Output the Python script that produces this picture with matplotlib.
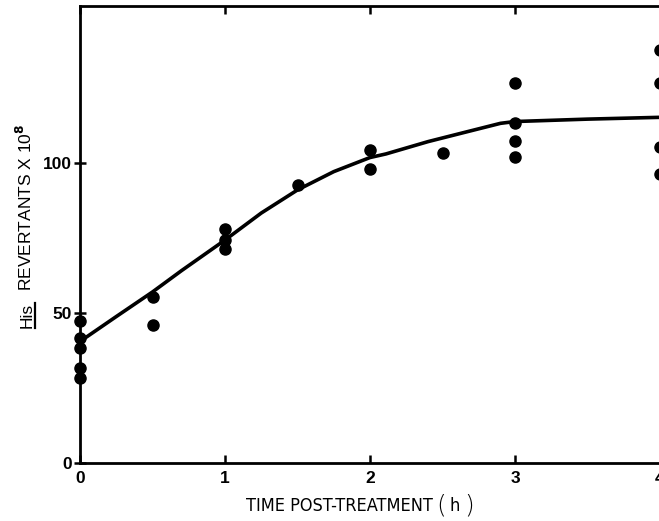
import matplotlib
matplotlib.use("Agg")
import matplotlib.pyplot as plt
from matplotlib.lines import Line2D

# revertants (x10^8)
time_h = [0, 0, 0, 0, 0,
          0.5, 0.5,
          1, 1, 1,
          1.5,
          2, 2,
          2.5,
          3, 3, 3, 3,
          4, 4, 4, 4]
revertants = [47.3, 41.7, 38.3, 31.5, 28.3,
              55.4, 46.0,
              77.9, 74.3, 71.2,
              92.7,
              104.3, 98.1,
              103.2,
              126.6, 113.4, 107.3, 101.9,
              137.7, 126.6, 105.2, 96.2]

# hand-drawn fit curve
curve_x = [0, 0.25, 0.5, 0.7, 1.0, 1.25, 1.5, 1.75, 2.0, 2.11, 2.4, 2.67, 2.9, 3.0, 3.5, 4.0]
curve_y = [40.5, 48.8, 57.0, 64.1, 74.3, 83.3, 91.0, 97.1, 101.8, 103.0, 107.1, 110.4, 113.2, 113.8, 114.6, 115.2]

xticks = [0, 1, 2, 3, 4]
yticks = [0, 50, 100]

W, H = 659, 521
fig = plt.figure(figsize=(W / 100, H / 100), dpi=100)
ax = fig.add_axes([80 / W, (H - 463) / H, 580 / W, 457 / H])

ax.plot(curve_x, curve_y, color="black", lw=2.6, solid_capstyle="round", zorder=2)
ax.plot(time_h, revertants, "o", color="black", ms=8, clip_on=False, zorder=3)

ax.set_xlim(0, 4)
ax.set_ylim(0, 152.3)
ax.set_xticks(xticks)
ax.set_yticks(yticks)

for s in ["left", "bottom", "top"]:
    ax.spines[s].set_linewidth(2.0)
ax.spines["right"].set_visible(False)

tickfont = {"family": ["Liberation Sans", "DejaVu Sans"], "weight": "bold", "size": 12.5}
ax.set_xticklabels([str(v) for v in xticks], fontdict=tickfont)
ax.set_yticklabels([str(v) for v in yticks], fontdict=tickfont)
ax.tick_params(axis="x", direction="in", length=6, width=1.8, pad=6, top=True)
ax.tick_params(axis="y", direction="inout", length=8, width=1.8, pad=2)

# y label: "His" underlined, then the rest
lab = {"family": ["Liberation Sans", "DejaVu Sans"], "size": 12.5}
bx = 32 / W
t1 = fig.text(bx, 193 / H, "His", rotation=90, rotation_mode="anchor",
              ha="left", va="baseline", fontdict=lab)
fig.canvas.draw()
r = fig.canvas.get_renderer()
bb = t1.get_window_extent(r)
fig.add_artist(Line2D([(bx * W + 2.5) / W] * 2, [bb.y0 / H, bb.y1 / H],
                      color="black", lw=1.6))
fig.text(bx, (bb.y1 + 12) / H, r"REVERTANTS X 10$^{\mathbf{8}}$", rotation=90,
         rotation_mode="anchor", ha="left", va="baseline", fontdict=lab)

# x label with tall parentheses
xl = {"family": ["DejaVu Sans"], "size": 13, "stretch": "condensed"}
t3 = fig.text(246 / W, 10 / H, "TIME POST-TREATMENT", ha="left", va="baseline", fontdict=xl)
fig.canvas.draw()
e = t3.get_window_extent(r)
p1 = fig.text((e.x1 + 3) / W, 15 / H, "(", ha="left", va="center",
              family="DejaVu Sans", size=18, weight="light")
fig.canvas.draw()
e = p1.get_window_extent(r)
h1 = fig.text((e.x1 + 4) / W, 10 / H, "h", ha="left", va="baseline", fontdict=xl)
fig.canvas.draw()
e = h1.get_window_extent(r)
fig.text((e.x1 + 4) / W, 15 / H, ")", ha="left", va="center",
         family="DejaVu Sans", size=18, weight="light")

fig.savefig("out.png", dpi=100)
